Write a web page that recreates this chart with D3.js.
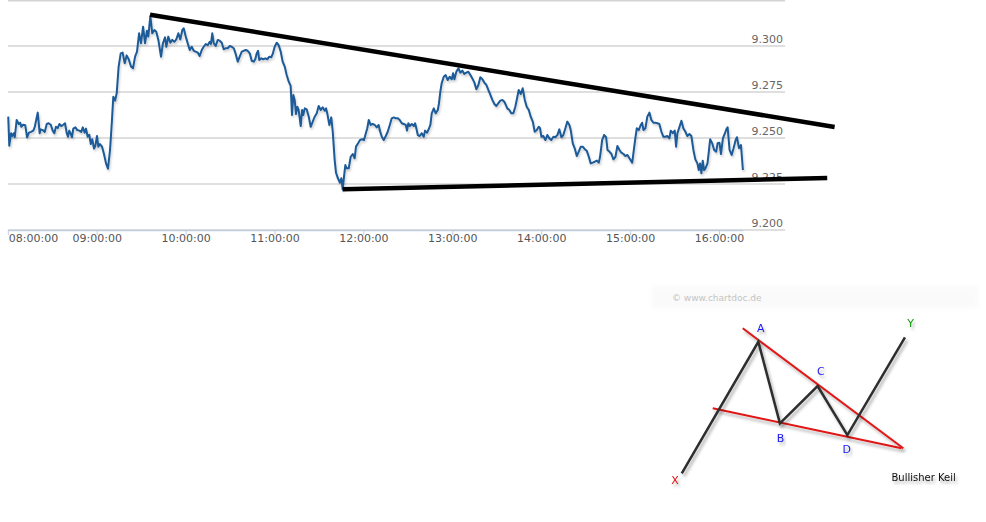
<!DOCTYPE html>
<html>
<head>
<meta charset="utf-8">
<script src="https://cdn.jsdelivr.net/npm/d3@7"></script>
<style>
  html, body { margin: 0; padding: 0; background: #fff; }
  svg { display: block; }
</style>
</head>
<body>
<svg id="chart" width="986" height="522"></svg>
<script>
// ---- Data: minutes after 08:00 and price ----
const minutes = [
0.3,1.0,2.2,3.0,4.0,4.7,6.0,7.4,8.4,9.1,10.3,11.8,13.0,14.3,15.7,17.2,18.2,20.2,21.5,22.2,23.6,24.9,26.3,27.6,29.0,30.3,31.4,32.5,33.7,34.8,36.1,37.5,38.6,39.8,40.6,41.5,42.5,43.3,44.2,45.6,46.9,48.3,49.6,50.6,51.9,52.8,53.9,55.0,56.0,57.0,58.2,59.1,60.2,61.1,62.2,63.6,64.9,66.3,67.6,69.0,70.3,71.2,72.4,73.5,74.8,76.2,77.5,78.9,80.2,81.6,
83.2,84.5,85.9,87.2,88.6,89.9,91.3,92.6,93.9,94.8,96.2,97.5,98.9,100.2,101.6,103.4,104.7,106.1,107.0,108.3,109.7,111.0,112.4,113.7,115.1,116.4,117.8,118.7,120.1,121.4,122.8,124.1,125.5,126.8,128.2,129.5,130.9,132.2,133.6,134.9,136.3,137.1,138.0,139.0,140.3,141.7,143.0,144.4,145.7,147.1,148.4,149.8,151.1,152.5,153.8,155.2,156.5,157.9,159.2,160.6,161.9,163.3,164.6,166.0,
167.0,168.0,168.9,169.7,171.1,172.4,173.8,175.1,176.5,177.8,178.8,180.1,181.5,182.8,184.2,185.5,186.9,188.2,189.6,190.9,191.8,192.7,193.6,194.5,195.4,196.3,197.7,198.6,199.4,200.4,201.7,203.1,204.4,205.8,207.1,208.5,209.8,211.2,212.5,213.9,214.8,215.6,217.0,218.3,219.3,220.6,221.5,222.8,224.2,225.1,226.0,226.9,227.8,228.7,230.1,231.4,232.8,234.1,235.0,236.4,237.7,239.1,240.4,241.3,242.6,243.6,244.9,246.3,247.6,249.0,250.3,
251.0,252.4,253.7,255.1,256.4,257.8,259.1,260.5,261.8,263.2,264.5,265.9,267.2,268.6,269.4,270.3,271.3,272.6,274.0,274.9,275.7,276.7,278.0,279.4,280.7,281.6,283.0,284.3,285.2,286.1,287.5,288.8,290.2,291.0,291.9,292.8,294.2,295.5,296.9,298.2,299.6,300.5,301.4,302.7,304.1,305.4,306.8,308.1,309.5,310.8,312.2,313.5,314.9,316.2,317.6,318.9,320.3,321.6,323.0,324.3,325.7,327.0,328.4,329.7,331.1,332.4,333.8,335.1,
335.8,337.1,338.5,339.8,341.2,342.5,343.9,344.8,346.2,347.5,348.9,350.2,351.6,352.9,354.3,355.6,357.0,358.3,359.2,360.1,361.4,362.8,364.1,365.5,366.8,368.2,369.5,370.9,372.2,373.6,374.9,376.3,377.6,379.0,379.9,381.3,382.6,384.0,385.3,386.7,388.0,389.4,390.7,392.1,393.4,394.8,396.1,397.5,398.8,399.7,401.1,402.4,403.8,404.7,406.0,407.4,408.7,410.1,411.4,412.8,414.1,415.5,416.8,418.2,419.5,
421.4,422.2,423.5,424.5,425.8,427.2,428.1,429.0,430.3,431.6,433.0,434.3,435.7,437.0,438.4,439.7,441.1,442.4,443.8,445.1,446.5,447.4,448.8,450.1,451.0,451.9,453.2,454.6,455.9,457.3,458.6,460.0,461.3,462.7,464.0,465.4,466.3,467.2,468.1,469.0,469.9,470.8,472.2,473.1,474.0,475.4,476.7,478.1,479.0,480.3,481.3,482.6,484.0,484.9,485.8,487.1,488.5,489.8,491.2,492.1,493.5,494.8,496.1
];
const prices = [
9.2616,9.2458,9.2526,9.2511,9.2526,9.2504,9.2598,9.2576,9.2583,9.2561,9.2572,9.2569,9.2504,9.2529,9.2533,9.2540,9.2561,9.2638,9.2526,9.2547,9.2543,9.2533,9.2576,9.2580,9.2572,9.2540,9.2526,9.2561,9.2554,9.2576,9.2565,9.2572,9.2580,9.2526,9.2507,9.2540,9.2522,9.2504,9.2551,9.2558,9.2543,9.2540,9.2533,9.2558,9.2529,9.2551,9.2507,9.2518,9.2467,9.2493,9.2442,9.2457,9.2511,9.2453,9.2467,9.2453,9.2413,9.2362,9.2333,9.2435,9.2598,9.2724,9.2703,9.2743,9.2888,9.2960,9.2964,9.2906,9.2949,9.2928,
9.2888,9.2879,9.2942,9.2969,9.3069,9.3015,9.3105,9.3015,9.3083,9.3051,9.3163,9.3069,9.3087,9.3078,9.3033,9.2942,9.3015,9.3047,9.2996,9.3051,9.3018,9.3033,9.3023,9.3036,9.3069,9.3036,9.3087,9.3096,9.3051,9.3015,9.2978,9.2996,9.2974,9.2969,9.2964,9.2946,9.2978,9.2996,9.3011,9.3004,9.3023,9.3011,9.3069,9.3015,9.3000,9.3033,9.3029,9.3018,9.2982,9.2988,9.2988,9.3000,9.2996,9.2988,9.2957,9.2915,9.2942,9.2969,9.2974,9.2978,9.2974,9.2960,9.2920,9.2915,
9.2928,9.2960,9.2974,9.2924,9.2933,9.2928,9.2933,9.2928,9.2942,9.2939,9.2957,9.2996,9.3018,9.3005,9.2969,9.2915,9.2888,9.2842,9.2806,9.2783,9.2625,9.2734,9.2707,9.2630,9.2670,9.2652,9.2565,9.2652,9.2625,9.2661,9.2656,9.2616,9.2561,9.2589,9.2616,9.2634,9.2674,9.2652,9.2667,9.2648,9.2661,9.2634,9.2571,9.2612,9.2534,9.2380,9.2311,9.2281,9.2257,9.2281,9.2221,9.2290,9.2353,9.2335,9.2335,9.2398,9.2413,9.2390,9.2453,9.2471,9.2489,9.2493,9.2489,9.2516,9.2553,9.2598,9.2571,9.2576,9.2571,9.2558,9.2571,
9.2543,9.2507,9.2489,9.2511,9.2534,9.2571,9.2607,9.2612,9.2607,9.2607,9.2598,9.2580,9.2576,9.2571,9.2540,9.2580,9.2565,9.2576,9.2565,9.2580,9.2553,9.2516,9.2511,9.2526,9.2507,9.2540,9.2529,9.2553,9.2571,9.2634,9.2661,9.2634,9.2652,9.2689,9.2752,9.2797,9.2833,9.2842,9.2815,9.2833,9.2819,9.2852,9.2819,9.2860,9.2879,9.2855,9.2866,9.2848,9.2855,9.2860,9.2842,9.2824,9.2801,9.2765,9.2788,9.2830,9.2819,9.2801,9.2788,9.2761,9.2734,9.2707,9.2685,9.2674,9.2689,9.2703,9.2707,9.2697,
9.2685,9.2661,9.2652,9.2634,9.2634,9.2670,9.2724,9.2761,9.2739,9.2770,9.2707,9.2670,9.2652,9.2616,9.2589,9.2534,9.2543,9.2561,9.2553,9.2507,9.2511,9.2489,9.2516,9.2498,9.2489,9.2507,9.2504,9.2516,9.2547,9.2504,9.2516,9.2553,9.2589,9.2571,9.2543,9.2471,9.2444,9.2402,9.2426,9.2453,9.2453,9.2439,9.2431,9.2398,9.2362,9.2366,9.2371,9.2377,9.2366,9.2398,9.2489,9.2516,9.2504,9.2435,9.2426,9.2413,9.2384,9.2398,9.2457,9.2435,9.2420,9.2413,9.2402,9.2408,9.2390,
9.2366,9.2417,9.2498,9.2553,9.2543,9.2571,9.2583,9.2543,9.2553,9.2616,9.2638,9.2598,9.2583,9.2583,9.2580,9.2576,9.2534,9.2507,9.2507,9.2511,9.2498,9.2540,9.2526,9.2540,9.2453,9.2526,9.2558,9.2594,9.2553,9.2534,9.2511,9.2522,9.2511,9.2435,9.2384,9.2362,9.2326,9.2362,9.2308,9.2377,9.2326,9.2335,9.2362,9.2426,9.2493,9.2471,9.2435,9.2426,9.2471,9.2474,9.2413,9.2498,9.2526,9.2547,9.2558,9.2435,9.2408,9.2444,9.2489,9.2504,9.2444,9.2462,9.2326
];

// Trend lines (drawn on the price chart)
const upperTrendMinutes = [96, 558];
const upperTrendPrices  = [9.3170, 9.2560];
const lowerTrendMinutes = [226, 553];
const lowerTrendPrices  = [9.2221, 9.2283];

// Axis ticks
const yTickValues = [9.200, 9.225, 9.250, 9.275, 9.300, 9.325];
const yTickLabels = ["9.200", "9.225", "9.250", "9.275", "9.300", ""];
const xTickHours  = [8, 9, 10, 11, 12, 13, 14, 15, 16];

// Inset pattern ("Bullisher Keil"), in relative units of the inset
const patternPathX = [0.049, 0.368, 0.458, 0.615, 0.739, 0.979];
const patternPathY = [0.958, 0.136, 0.646, 0.4125, 0.719, 0.108];
const redUpperX = [0.303, 0.972], redUpperY = [0.052, 0.802];
const redLowerX = [0.178, 0.965], redLowerY = [0.552, 0.802];
const patternLabels = ["X", "A", "B", "C", "D", "Y"];
const patternLabelX = [0.021, 0.378, 0.461, 0.629, 0.736, 1.003];
const patternLabelY = [1.000, 0.052, 0.739, 0.317, 0.808, 0.017];
const patternLabelColors = ["#e01010", "#1a1aee", "#1a1aee", "#1a1aee", "#1a1aee", "#119911"];
const patternTitle = "Bullisher Keil";
const watermark = "\u00a9 www.chartdoc.de";

// ---- Drawing ----
const svg = d3.select("#chart");
const base = new Date(2024, 0, 2, 8, 0, 0);
const toDate = m => new Date(base.getTime() + m * 60000);

const lastMin = minutes[minutes.length - 1];
const x = d3.scaleTime().domain([toDate(0), toDate(lastMin)]).range([7.8, 742.9]);
const y = d3.scaleLinear().domain([9.2, 9.325]).range([230, 0]);

const defs = svg.append("defs");
const f = defs.append("filter").attr("id", "shadow").attr("x", "-10%").attr("y", "-10%").attr("width", "120%").attr("height", "130%");
f.append("feDropShadow").attr("dx", 1).attr("dy", 2).attr("stdDeviation", 1.2).attr("flood-color", "#000").attr("flood-opacity", 0.2);
const f2 = defs.append("filter").attr("id", "shadow2").attr("x", "-20%").attr("y", "-20%").attr("width", "140%").attr("height", "140%");
f2.append("feDropShadow").attr("dx", 2).attr("dy", 3).attr("stdDeviation", 1.6).attr("flood-color", "#000").attr("flood-opacity", 0.3);
const f3 = defs.append("filter").attr("id", "blurband");
f3.append("feGaussianBlur").attr("stdDeviation", 2);

// Gridlines
svg.append("g").selectAll("line").data(yTickValues).join("line")
  .attr("x1", 8).attr("x2", 785)
  .attr("y1", d => Math.max(0.75, y(d))).attr("y2", d => Math.max(0.75, y(d)))
  .attr("stroke", "#d4d4d4").attr("stroke-width", 1.5);

// Y labels
svg.append("g").selectAll("text").data(yTickValues).join("text")
  .attr("x", 783).attr("y", d => y(d) - 2.8)
  .attr("text-anchor", "end")
  .attr("font-family", "DejaVu Sans, Verdana, sans-serif").attr("font-size", 11)
  .attr("fill", "#666")
  .text((d, i) => yTickLabels[i]);

// X axis
const xAxis = d3.axisBottom(x)
  .tickValues(xTickHours.map(h => toDate((h - 8) * 60)))
  .tickFormat(d3.timeFormat("%H:%M:%S"))
  .tickSize(5).tickSizeOuter(0);
const gx = svg.append("g").attr("transform", "translate(0,230)").call(xAxis);
gx.select(".domain").attr("stroke", "#c3cde0").attr("stroke-width", 1.5);
gx.selectAll(".tick line").attr("stroke", "#c3cde0");
gx.selectAll(".tick text")
  .attr("y", 4).attr("dy", "0.71em")
  .attr("font-family", "DejaVu Sans, Verdana, sans-serif").attr("font-size", 11)
  .attr("fill", "#555");
gx.selectAll(".tick text").filter((d, i) => i === 0).attr("text-anchor", "start").attr("x", 0.5);

// Price line
const line = d3.line().x(d => x(toDate(d[0]))).y(d => y(d[1]));
const series = minutes.map((m, i) => [m, prices[i]]);
svg.append("path").datum(series)
  .attr("d", line).attr("fill", "none")
  .attr("stroke", "#1c5a98").attr("stroke-width", 2)
  .attr("stroke-linejoin", "round")
  .attr("filter", "url(#shadow)");

// Trend lines
const trend = (ms, ps) => ms.map((m, i) => [m, ps[i]]);
[[upperTrendMinutes, upperTrendPrices], [lowerTrendMinutes, lowerTrendPrices]].forEach(([ms, ps]) => {
  svg.append("path").datum(trend(ms, ps))
    .attr("d", line).attr("fill", "none")
    .attr("stroke", "#000").attr("stroke-width", 4.5);
});

// ---- Inset pattern ----
const ix = d3.scaleLinear().domain([0, 1]).range([670, 910]);
const iy = d3.scaleLinear().domain([0, 1]).range([320, 480]);
const inset = svg.append("g");
inset.append("rect").attr("x", 652).attr("y", 286).attr("width", 326).attr("height", 22)
  .attr("fill", "#fafafa").attr("filter", "url(#blurband)");
inset.append("text").attr("x", ix(0.008)).attr("y", 301)
  .attr("font-family", "DejaVu Sans, Verdana, sans-serif").attr("font-size", 9)
  .attr("fill", "#c4c4c4").text(watermark);

const pline = d3.line().x(d => ix(d[0])).y(d => iy(d[1]));
inset.append("path").datum(redUpperX.map((v, i) => [v, redUpperY[i]]))
  .attr("d", pline).attr("stroke", "#e01515").attr("stroke-width", 2).attr("fill", "none")
  .attr("filter", "url(#shadow2)");
inset.append("path").datum(redLowerX.map((v, i) => [v, redLowerY[i]]))
  .attr("d", pline).attr("stroke", "#e01515").attr("stroke-width", 2).attr("fill", "none")
  .attr("filter", "url(#shadow2)");
inset.append("path").datum(patternPathX.map((v, i) => [v, patternPathY[i]]))
  .attr("d", pline).attr("stroke", "#2e2e2e").attr("stroke-width", 2.5).attr("fill", "none")
  .attr("stroke-linejoin", "miter").attr("filter", "url(#shadow2)");

inset.append("g").selectAll("text").data(patternLabels).join("text")
  .attr("x", (d, i) => ix(patternLabelX[i])).attr("y", (d, i) => iy(patternLabelY[i]))
  .attr("dy", "0.35em").attr("text-anchor", "middle")
  .attr("font-family", "DejaVu Sans, Verdana, sans-serif").attr("font-size", 11)
  .attr("fill", (d, i) => patternLabelColors[i])
  .attr("filter", "url(#shadow2)")
  .text(d => d);

inset.append("text").attr("x", 891.5).attr("y", iy(0.983)).attr("dy", "0.35em")
  .attr("font-family", "DejaVu Sans, Verdana, sans-serif").attr("font-size", 10)
  .attr("fill", "#111").attr("filter", "url(#shadow2)")
  .text(patternTitle);
</script>
</body>
</html>
